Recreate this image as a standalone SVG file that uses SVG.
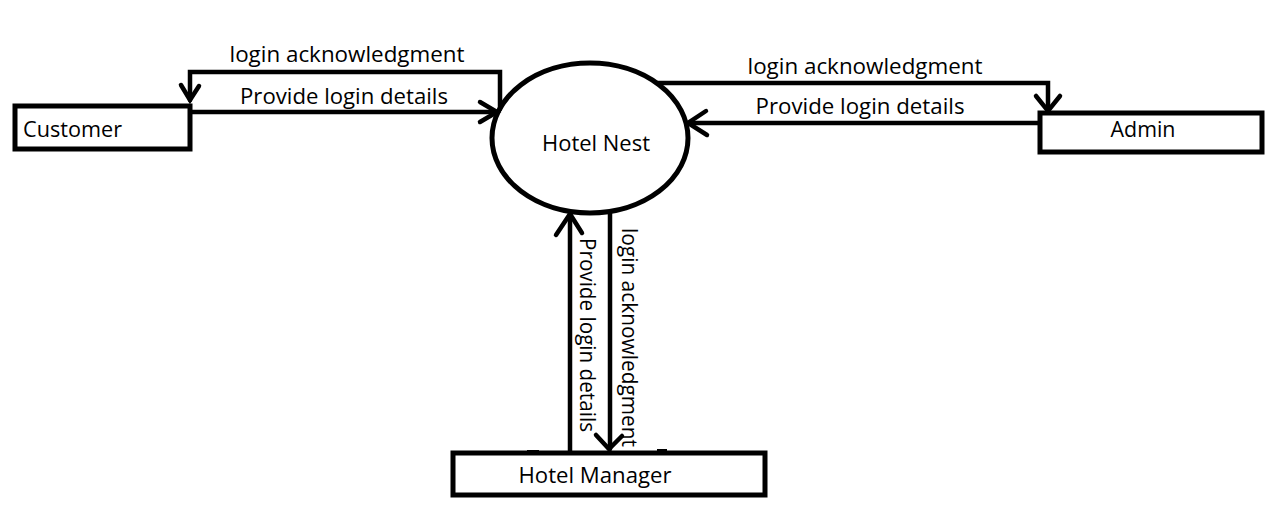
<svg xmlns="http://www.w3.org/2000/svg" width="1270" height="514" viewBox="0 0 1270 514">
<style>
.box{fill:#fff;stroke:#000;stroke-width:5}
.ln{fill:none;stroke:#000;stroke-width:4.5;stroke-linejoin:miter;stroke-linecap:round}
.lbl{font-family:"Open Sans","Liberation Sans",Arial,sans-serif;font-size:22px;fill:#000}
</style>
<rect width="1270" height="514" fill="#fff"/>
<g id="connectors">
  <g id="c-cust-ack">
    <path class="ln" d="M500 109 L500 72 L190 72 L190 100"/>
    <path class="ln" d="M181 85 L190 100 L199 86"/>
    <text class="lbl" x="347" y="62" text-anchor="middle" textLength="235" lengthAdjust="spacingAndGlyphs">login acknowledgment</text>
  </g>
  <g id="c-cust-prov">
    <path class="ln" d="M190 112 L497 112"/>
    <path class="ln" d="M480 102 L497 112 L480 122"/>
    <text class="lbl" x="344" y="104" text-anchor="middle" textLength="208" lengthAdjust="spacingAndGlyphs">Provide login details</text>
  </g>
  <g id="c-admin-ack">
    <path class="ln" d="M657 83 L1048 83 L1048 111"/>
    <path class="ln" d="M1036 96 L1048 111 L1060 96"/>
    <text class="lbl" x="865" y="74" text-anchor="middle" textLength="235" lengthAdjust="spacingAndGlyphs">login acknowledgment</text>
  </g>
  <g id="c-admin-prov">
    <path class="ln" d="M1040 123 L688 123"/>
    <path class="ln" d="M706 111 L688 123 L707 135"/>
    <text class="lbl" x="860" y="114" text-anchor="middle" textLength="209" lengthAdjust="spacingAndGlyphs">Provide login details</text>
  </g>
  <g id="c-mgr-prov">
    <path class="ln" d="M570 453 L570 214"/>
    <path class="ln" d="M556 235 L570 214 L582 233"/>
    <text class="lbl" transform="translate(580 238) rotate(90)" textLength="194" lengthAdjust="spacingAndGlyphs">Provide login details</text>
  </g>
  <g id="c-mgr-ack">
    <path class="ln" d="M610 212 L610 449"/>
    <path class="ln" d="M596 435 L609 449 L622 436"/>
    <text class="lbl" transform="translate(622 228) rotate(90)" textLength="219" lengthAdjust="spacingAndGlyphs">login acknowledgment</text>
  </g>
  <path d="M527 451 L539 451 M657 450 L667 450" fill="none" stroke="#000" stroke-width="2"/>
</g>
<g id="customer">
  <rect class="box" x="15" y="106" width="175" height="43"/>
  <text class="lbl" x="23" y="137" textLength="99" lengthAdjust="spacingAndGlyphs">Customer</text>
</g>
<g id="hotel-nest">
  <ellipse cx="590" cy="138" rx="98" ry="75" fill="none" stroke="#000" stroke-width="5"/>
  <text class="lbl" x="596" y="151" text-anchor="middle" textLength="108" lengthAdjust="spacingAndGlyphs">Hotel Nest</text>
</g>
<g id="admin">
  <rect class="box" x="1040" y="113" width="222" height="39"/>
  <text class="lbl" x="1143" y="137" text-anchor="middle" textLength="65" lengthAdjust="spacingAndGlyphs">Admin</text>
</g>
<g id="hotel-manager">
  <rect class="box" x="453" y="453" width="312" height="42"/>
  <text class="lbl" x="595" y="483" text-anchor="middle" textLength="153" lengthAdjust="spacingAndGlyphs">Hotel Manager</text>
</g>
</svg>
